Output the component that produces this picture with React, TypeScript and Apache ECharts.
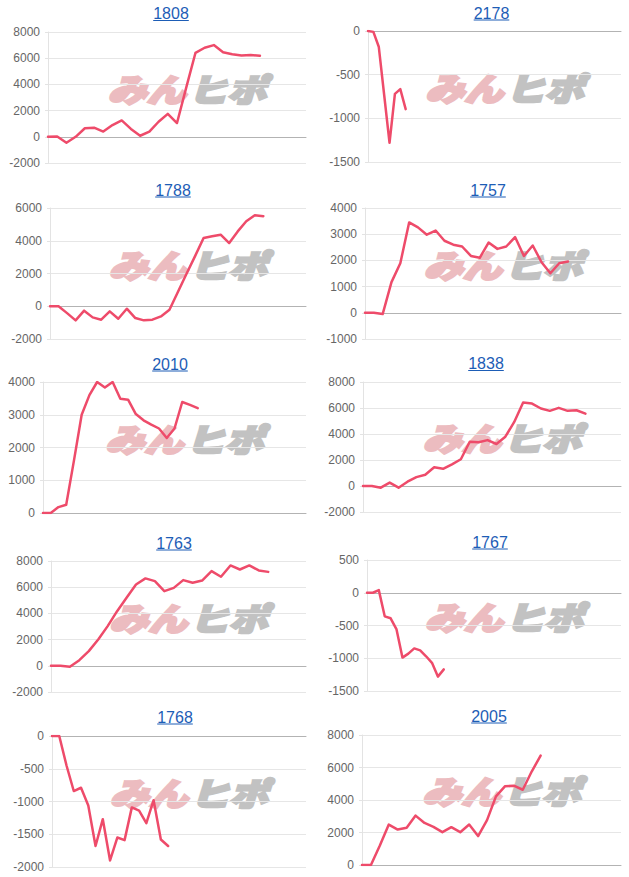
import React, { useEffect, useRef } from "react";
import * as echarts from "echarts";

// ---- data ----
const codes = ["1808", "2178", "1788", "1757", "2010", "1838", "1763", "1767", "1768", "2005"];

const values1808 = [0, 20, -450, 0, 650, 700, 400, 900, 1250, 600, 80, 400, 1150, 1750, 1050, 3750, 6400, 6800, 7000, 6450, 6300, 6200, 6250, 6180];
const values2178 = [0, -10, -180, -730, -1280, -720, -665, -895];
const values1788 = [0, 0, -420, -860, -270, -680, -820, -310, -760, -150, -720, -860, -820, -620, -210, 890, 1990, 3060, 4170, 4270, 4370, 3860, 4570, 5190, 5560, 5500];
const values1757 = [0, 0, -50, 1170, 1890, 3450, 3260, 2980, 3140, 2750, 2600, 2530, 2170, 2100, 2680, 2440, 2530, 2890, 2170, 2570, 1930, 1510, 1890, 1960];
const values2010 = [0, 0, 180, 250, 1600, 3000, 3600, 4000, 3830, 4000, 3490, 3460, 3020, 2830, 2700, 2580, 2290, 2580, 3390, 3300, 3200];
const values1838 = [0, 0, -130, 260, -130, 330, 680, 860, 1440, 1320, 1670, 2060, 3400, 3360, 3530, 3230, 3790, 4930, 6420, 6340, 5960, 5780, 6010, 5780, 5830, 5570];
const values1763 = [0, 0, -80, 430, 1120, 2010, 3030, 4170, 5190, 6210, 6670, 6460, 5700, 5950, 6540, 6340, 6510, 7230, 6800, 7660, 7350, 7660, 7280, 7170];
const values1767 = [0, 0, 40, -360, -390, -560, -990, -930, -850, -880, -970, -1070, -1280, -1170];
const values1768 = [0, 0, -450, -840, -790, -1060, -1680, -1270, -1900, -1550, -1590, -1090, -1140, -1330, -980, -1580, -1680];
const values2005 = [0, 0, 1200, 2490, 2180, 2290, 3040, 2590, 2350, 2020, 2330, 2020, 2490, 1780, 2760, 4220, 4840, 4880, 4630, 5750, 6730];

const seriesValues = [values1808, values2178, values1788, values1757, values2010, values1838, values1763, values1767, values1768, values2005];
const categoryCounts = [29, 48, 31, 30, 35, 30, 28, 44, 36, 30];
const yMins = [-2000, -1500, -2000, -1000, 0, -2000, -2000, -1500, -2000, 0];
const yMaxs = [8000, 0, 6000, 4000, 4000, 8000, 8000, 500, 0, 8000];
const yIntervals = [2000, 500, 2000, 1000, 1000, 2000, 2000, 500, 500, 2000];

// ---- layout (pixels) ----
const plotBoxes = [
  [48, 32, 306, 163],
  [368, 31, 621, 162],
  [50, 208, 306, 339],
  [365, 208, 621, 339],
  [43, 382, 306, 513],
  [363, 382, 621, 512],
  [51, 561, 306, 692],
  [367, 560, 621, 691],
  [52, 736, 306, 867],
  [362, 735, 621, 865],
];
const titlePos = [
  [171, 13.5],
  [491.5, 13],
  [173, 190],
  [488, 190],
  [170, 364],
  [486, 363.5],
  [174, 543],
  [490, 542],
  [175, 717],
  [489, 716],
];

const LINE_COLOR = "#ee4b6a";
const FONT = "'Liberation Sans', Arial, Helvetica, sans-serif";
const WM_FONT = "'Noto Sans CJK JP', 'Noto Sans CJK SC', sans-serif";

export default function App() {
  const ref = useRef<HTMLDivElement>(null);

  useEffect(() => {
    if (!ref.current) return;
    const chart = echarts.init(ref.current, null, { renderer: "svg" });

    const grids: any[] = [];
    const xAxes: any[] = [];
    const yAxes: any[] = [];
    const series: any[] = [];
    const graphics: any[] = [];

    codes.forEach((code, i) => {
      const [l, t, r, b] = plotBoxes[i];
      grids.push({ left: l, top: t, width: r - l, height: b - t });
      const cats = Array.from({ length: categoryCounts[i] }, (_, k) => String(k + 1));
      xAxes.push({
        type: "category",
        gridIndex: i,
        data: cats,
        boundaryGap: false,
        axisLine: { show: true, onZero: true, lineStyle: { color: "#b3b3b3", width: 1 } },
        axisTick: { show: false },
        axisLabel: { show: false },
        splitLine: { show: false },
      });
      yAxes.push({
        type: "value",
        gridIndex: i,
        min: yMins[i],
        max: yMaxs[i],
        interval: yIntervals[i],
        axisLine: { show: true, lineStyle: { color: "#e3e3e3", width: 1 } },
        axisTick: { show: true, length: 3, lineStyle: { color: "#e3e3e3" } },
        axisLabel: {
          color: "#666666",
          fontSize: 12,
          fontFamily: FONT,
          margin: 8,
          formatter: (v: number) => String(v),
        },
        splitLine: { show: true, lineStyle: { color: "#e6e6e6", width: 1 } },
      });
      series.push({
        type: "line",
        xAxisIndex: i,
        yAxisIndex: i,
        data: seriesValues[i],
        showSymbol: false,
        symbol: "none",
        smooth: false,
        z: 3,
        lineStyle: { color: LINE_COLOR, width: 2.5, join: "round", cap: "round" },
      });

      const [tx, ty] = titlePos[i];
      graphics.push({
        type: "text",
        x: tx,
        y: ty,
        z: 10,
        style: {
          text: code,
          fill: "#1d5db6",
          fontSize: 16,
          fontFamily: FONT,
          textAlign: "center",
          textVerticalAlign: "middle",
        },
      });
      graphics.push({
        type: "line",
        z: 10,
        shape: { x1: tx - 17.8, y1: ty + 7, x2: tx + 17.8, y2: ty + 7 },
        style: { stroke: "#1d5db6", lineWidth: 1 },
      });

      const cx = (l + r) / 2 + 10;
      const cy = (t + b) / 2 - 9.5;
      graphics.push({
        type: "group",
        x: cx,
        y: cy,
        scaleX: 1.22,
        z: 1,
        children: [
          {
            type: "text",
            x: -1,
            y: 0,
            style: {
              text: "みん",
              fill: "#ecbcc0",
              stroke: "#ecbcc0",
              lineWidth: 2.5,
              fontSize: 32,
              fontWeight: 900,
              fontStyle: "italic",
              fontFamily: WM_FONT,
              textAlign: "right",
              textVerticalAlign: "middle",
            },
          },
          {
            type: "text",
            x: 1,
            y: 0,
            style: {
              text: "ヒポ",
              fill: "#c2c2c2",
              stroke: "#c2c2c2",
              lineWidth: 2.5,
              fontSize: 32,
              fontWeight: 900,
              fontStyle: "italic",
              fontFamily: WM_FONT,
              textAlign: "left",
              textVerticalAlign: "middle",
            },
          },
        ],
      });
    });

    chart.setOption({
      animation: false,
      backgroundColor: "#ffffff",
      grid: grids,
      xAxis: xAxes,
      yAxis: yAxes,
      series,
      graphic: graphics,
    });

    return () => chart.dispose();
  }, []);

  return (
    <div
      ref={ref}
      style={{ position: "absolute", left: 0, top: 0, width: 629, height: 877 }}
    />
  );
}
